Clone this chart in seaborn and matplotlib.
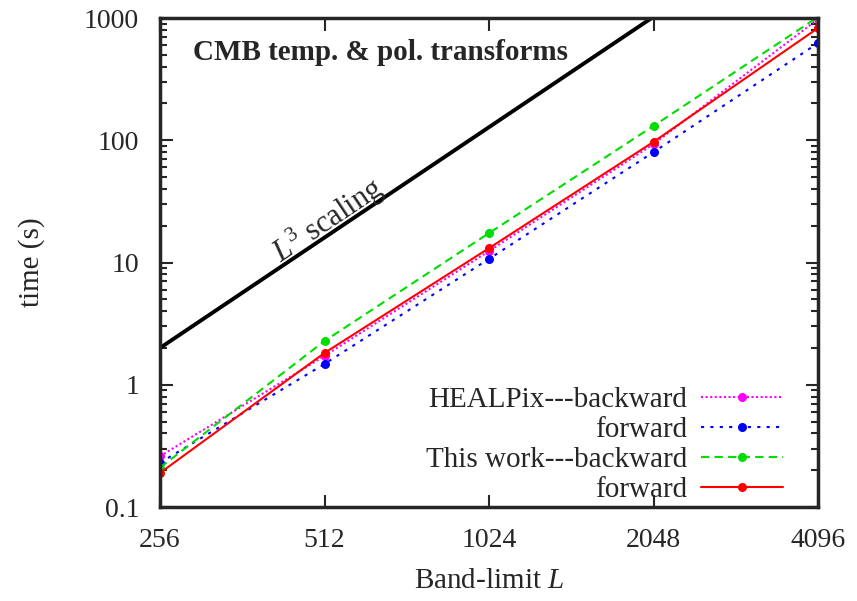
import numpy as np
import pandas as pd
import matplotlib
matplotlib.use("Agg")
import matplotlib.pyplot as plt
import seaborn as sns
from matplotlib.ticker import FixedLocator, NullFormatter, LogLocator

sns.set_style("ticks")
plt.rcParams['font.family'] = ['Liberation Serif', 'DejaVu Serif']
plt.rcParams['mathtext.fontset'] = 'custom'
plt.rcParams['mathtext.it'] = 'Liberation Serif:italic'
plt.rcParams['mathtext.rm'] = 'Liberation Serif'

# band-limits
L = [256, 512, 1024, 2048, 4096]
# timings (s)
healpix_back = [0.26, 1.72, 12.4, 93, 980]
healpix_fwd = [0.23, 1.48, 10.7, 80, 624]
ours_back = [0.21, 2.28, 17.4, 131, 1020]
ours_fwd = [0.19, 1.82, 13.1, 97, 828]
# L^3 reference line
ref_L = [256, 4096]
ref_t = [2.0, 8192.0]

series = ["HEALPix---backward", "forward ", "This work---backward", "forward"]
colors = ["#ff00ff", "#0000ff", "#00dd00", "#ff0000"]
styles = [(0, (1, 1.2)), (0, (1.5, 3)), (0, (4, 2.5)), "-"]

df = pd.DataFrame({
    "L": L * 4,
    "t": healpix_back + healpix_fwd + ours_back + ours_fwd,
    "s": sum([[s] * len(L) for s in series], []),
})

fig = plt.figure(figsize=(8.57, 6.01), dpi=100)
ax = fig.add_axes([0.1867, 0.1564, 0.9545 - 0.1867, 0.970 - 0.1564])

sns.lineplot(x=ref_L, y=ref_t, ax=ax, color="black", lw=2.8)

for s, c, ls in zip(series, colors, styles):
    d = df[df["s"] == s]
    sns.lineplot(data=d, x="L", y="t", ax=ax, color=c, lw=1.5, linestyle=ls,
                 marker="o", markersize=6.5, markeredgewidth=0, label=s)

ax.set_xscale("log", base=2)
ax.set_yscale("log")
ax.set_xlim(256, 4096)
ax.set_ylim(0.1, 1000)

ax.xaxis.set_major_locator(FixedLocator(L))
ax.set_xticklabels([str(v) for v in L])
ax.xaxis.set_minor_locator(FixedLocator([]))
ax.set_yticks([0.1, 1, 10, 100, 1000])
ax.set_yticklabels(["0.1", "1", "10", "100", "1000"])
ax.yaxis.set_minor_locator(LogLocator(base=10, subs=np.arange(2, 10)))
ax.yaxis.set_minor_formatter(NullFormatter())

ax.tick_params(which="both", direction="in", top=True, right=True,
               labelsize=20, width=1.5, pad=15)
ax.tick_params(which="major", length=9)
ax.tick_params(which="minor", length=5)
for sp in ax.spines.values():
    sp.set_linewidth(2.5)

ax.set_xlabel("Band-limit $L$", fontsize=21)
ax.set_ylabel("time (s)", fontsize=21)
ax.xaxis.set_label_coords(0.5, -0.125)
ax.yaxis.set_label_coords(-0.175, 0.5)

ax.text(0.05, 0.93, "CMB temp. & pol. transforms", transform=ax.transAxes,
        fontsize=21, fontweight="bold", va="center", ha="left")
ax.text(520, 22, "$L^3$ scaling", fontsize=22, rotation=34,
        ha="center", va="center", rotation_mode="anchor")

leg = ax.legend(loc="lower right", bbox_to_anchor=(0.947, 0.008),
                frameon=False, markerfirst=False, fontsize=21,
                handlelength=2.8, handletextpad=0.5, labelspacing=0.12,
                borderaxespad=0, borderpad=0)
leg._legend_box.align = "right"
for t in leg.get_texts():
    t.set_text(t.get_text().strip())
    t.set_ha("right")

fig.savefig("out.png", dpi=100)
